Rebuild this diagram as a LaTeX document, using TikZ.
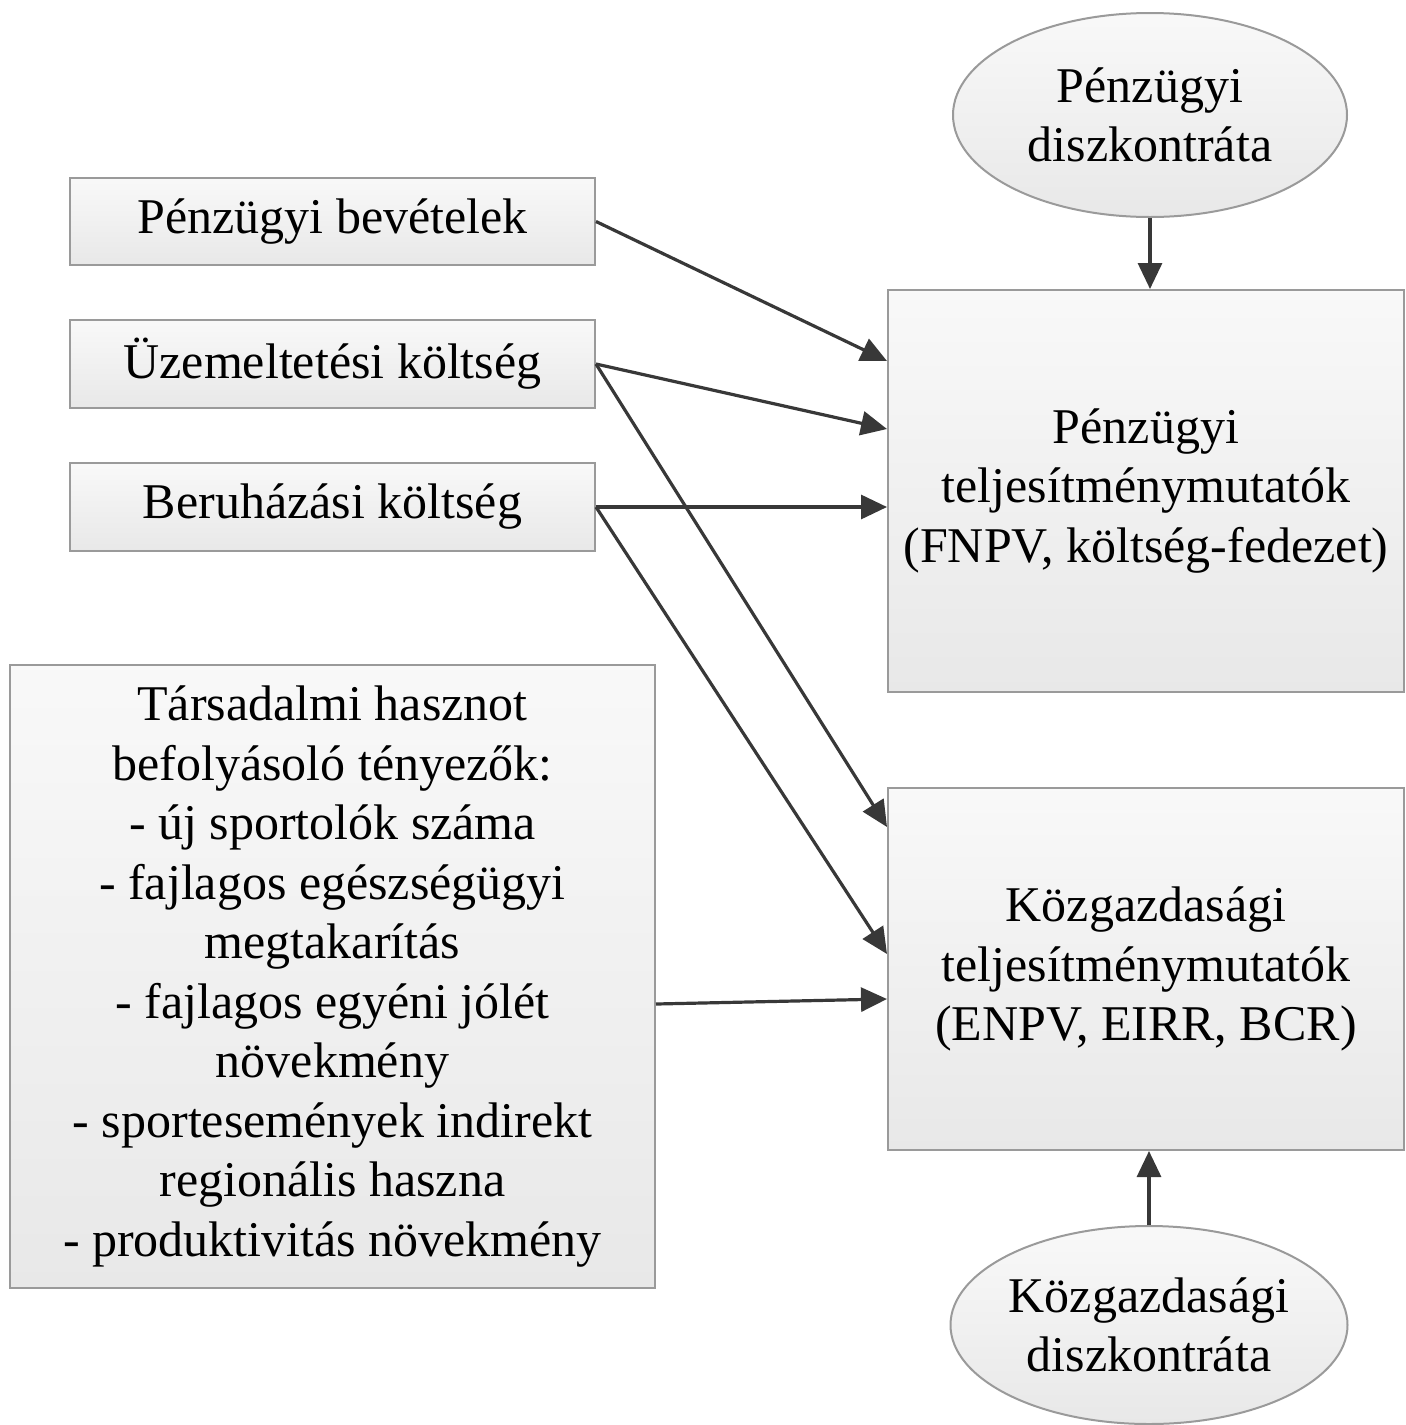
\documentclass[tikz,border=0pt]{standalone}
\usepackage{fontspec}
\setmainfont{Liberation Serif}
\usetikzlibrary{shapes.geometric,arrows.meta,calc}
\definecolor{edgegray}{HTML}{9A9A9A}
\definecolor{arrowgray}{HTML}{383838}
\begin{document}
\begin{tikzpicture}[x=1pt,y=-1pt,
  boxnode/.style={draw=edgegray, line width=2pt, top color=gray!5, bottom color=gray!18,
    font=\fontsize{50}{59.5}\selectfont, align=center, inner sep=0pt},
  ellnode/.style={ellipse, draw=edgegray, line width=2pt, top color=gray!5, bottom color=gray!18,
    font=\fontsize{50}{59.5}\selectfont, align=center, inner sep=0pt},
  conn/.style={draw=arrowgray, line width=3.2pt, -{Triangle[length=26pt,width=24pt]}}]
\useasboundingbox (0,0) rectangle (1406,1425);

\node[boxnode, minimum width=525pt, minimum height=87pt] (b1) at (332.5,221.5) {Pénzügyi bevételek};
\node[boxnode, minimum width=525pt, minimum height=88pt] (b2) at (332.5,364) {Üzemeltetési költség};
\node[boxnode, minimum width=525pt, minimum height=88pt] (b3) at (332.5,507) {Beruházási költség};
\node[boxnode, minimum width=645pt, minimum height=623pt] (soc) at (332.5,976.5)
  {Társadalmi hasznot\\befolyásoló tényezők:\\- új sportolók száma\\- fajlagos egészségügyi\\megtakarítás\\- fajlagos egyéni jólét\\növekmény\\- sportesemények indirekt\\regionális haszna\\- produktivitás növekmény};
\node[boxnode, minimum width=516pt, minimum height=402pt] (fin) at (1146,491)
  {Pénzügyi\\teljesítménymutatók\\(FNPV, költség-fedezet)};
\node[boxnode, minimum width=516pt, minimum height=362pt] (eco) at (1146,969)
  {Közgazdasági\\teljesítménymutatók\\(ENPV, EIRR, BCR)};
\node[ellnode, minimum width=394pt, minimum height=204pt] (e1) at (1150,115)
  {Pénzügyi\\diszkontráta};
\node[ellnode, minimum width=397pt, minimum height=198pt] (e2) at (1149,1325)
  {Közgazdasági\\diszkontráta};

\draw[conn] (e1.south) -- (e1.south |- fin.north);
\draw[conn] (e2.north) -- (e2.north |- eco.south);
\draw[conn] (b1.east) -- ($(fin.north west)+(0,72)$);
\draw[conn] (b2.east) -- ($(fin.north west)+(0,140)$);
\draw[conn] (b2.east) -- ($(eco.north west)+(0,40)$);
\draw[conn] (b3.east) -- ($(fin.north west)+(0,218)$);
\draw[conn] (b3.east) -- ($(eco.north west)+(0,167)$);
\draw[conn] ($(soc.north east)+(0,340)$) -- ($(eco.north west)+(0,212)$);
\end{tikzpicture}
\end{document}
